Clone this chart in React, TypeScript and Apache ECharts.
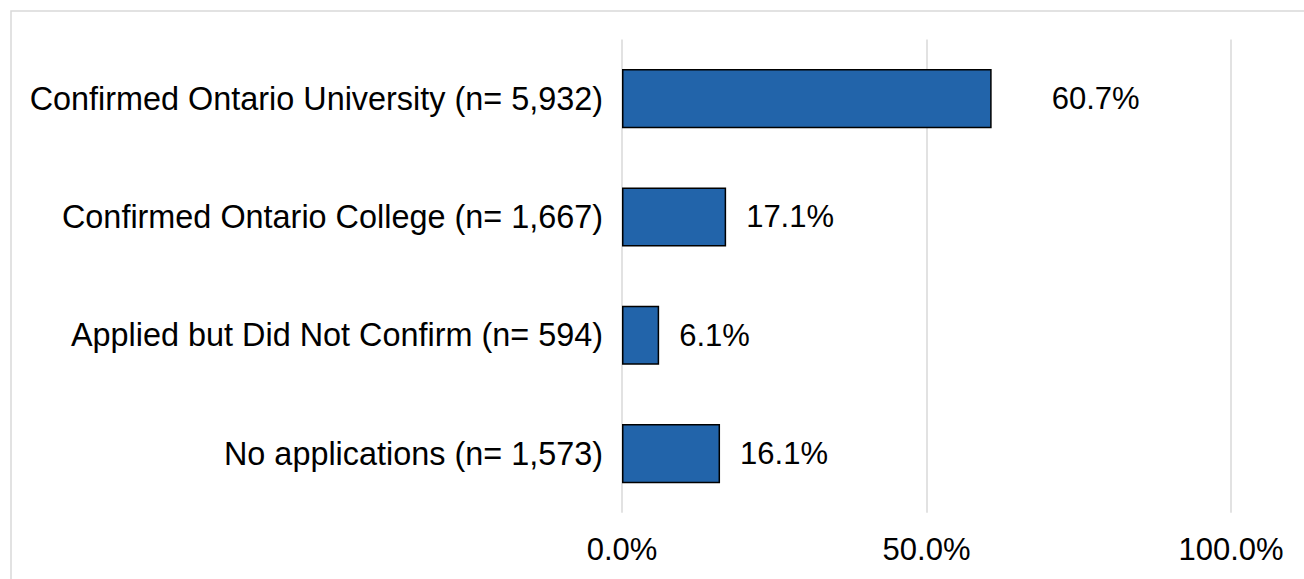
import React, { useEffect, useRef } from "react";
import * as echarts from "echarts";

const categories = [
  "Confirmed Ontario University (n= 5,932)",
  "Confirmed Ontario College (n= 1,667)",
  "Applied but Did Not Confirm (n= 594)",
  "No applications (n= 1,573)",
];
const values = [60.7, 17.1, 6.1, 16.1];
const labelDistances = [60, 20, 20, 20];

export default function App() {
  const ref = useRef<HTMLDivElement>(null);
  useEffect(() => {
    document.body.style.margin = "0";
    const chart = echarts.init(ref.current!, null, { renderer: "svg" });
    const font = "'Liberation Sans', Arial, sans-serif";
    chart.setOption({
      animation: false,
      backgroundColor: "#ffffff",
      graphic: [
        {
          type: "rect",
          shape: { x: 11, y: 11, width: 1400, height: 700 },
          style: { fill: "none", stroke: "#d9d9d9", lineWidth: 1.5 },
          silent: true,
        },
      ],
      grid: { left: 622, right: 1304 - 1231, top: 39.5, bottom: 579 - 512.7 },
      xAxis: {
        type: "value",
        min: 0,
        max: 100,
        interval: 50,
        axisLine: { show: false },
        axisTick: { show: false },
        splitLine: { show: true, lineStyle: { color: "#d9d9d9", width: 1.5 } },
        axisLabel: {
          formatter: (v: number) => v.toFixed(1) + "%",
          color: "#000",
          fontFamily: font,
          fontSize: 31,
          margin: 21,
        },
      },
      yAxis: {
        type: "category",
        inverse: true,
        data: categories,
        axisLine: { show: false },
        axisTick: { show: false },
        axisLabel: { color: "#000", fontFamily: font, fontSize: 32.4, margin: 19 },
      },
      series: [
        {
          type: "bar",
          barWidth: "50%",
          data: values.map((v, i) => ({
            value: v,
            label: { distance: labelDistances[i] },
          })),
          itemStyle: { color: "#2264aa", borderColor: "#000", borderWidth: 1.5 },
          label: {
            show: true,
            position: "right",
            formatter: (p: any) => p.value.toFixed(1) + "%",
            color: "#000",
            fontFamily: font,
            fontSize: 31,
          },
        },
      ],
    });
    return () => chart.dispose();
  }, []);
  return (
    <div
      ref={ref}
      style={{ position: "absolute", left: 0, top: 0, width: 1304, height: 579 }}
    />
  );
}
